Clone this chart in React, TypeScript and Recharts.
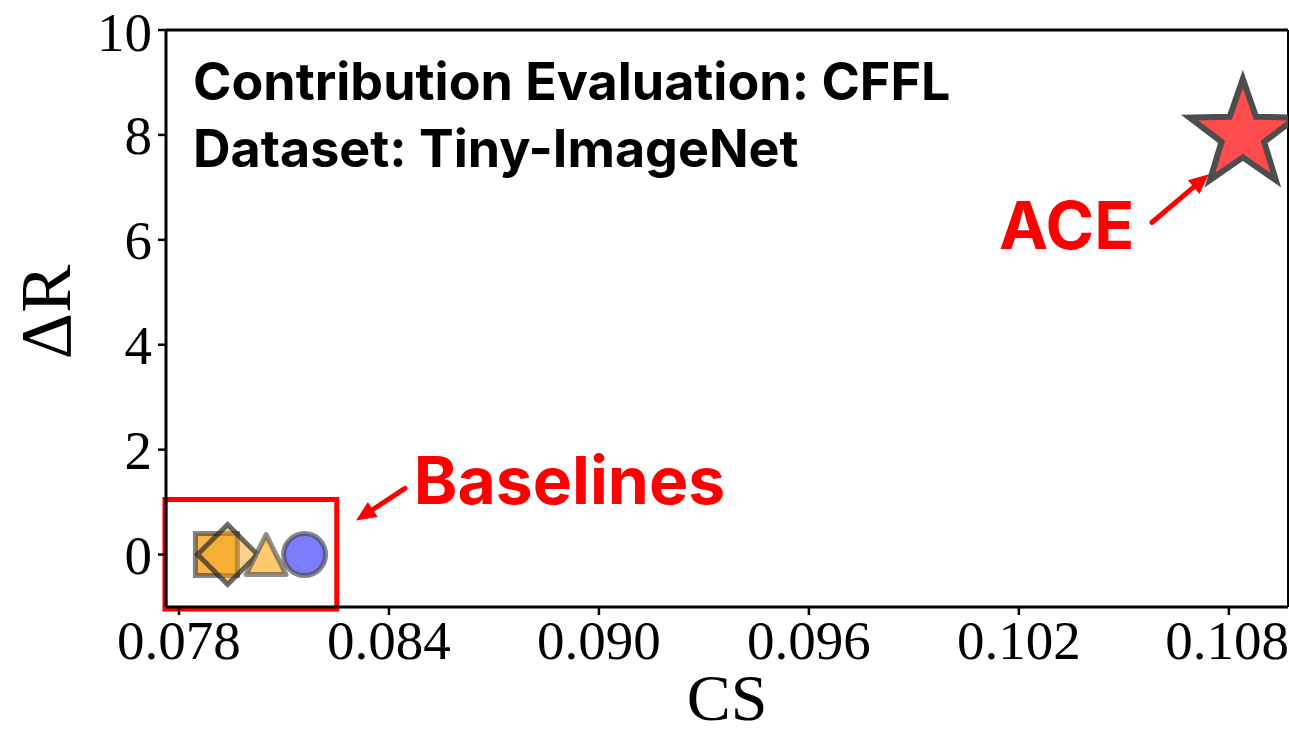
import {
  ReferenceArea,
  ReferenceDot,
  ReferenceLine,
  Scatter,
  ScatterChart,
  XAxis,
  YAxis,
} from "recharts";

// values
const methods = ["Baseline 1", "Baseline 2", "Baseline 3", "Baseline 4", "ACE"];
const csValues = [0.07907, 0.07939, 0.08049, 0.08159, 0.1084];
const deltaRValues = [0, 0, 0, 0, 8.0];
const markerKinds = ["square", "diamond", "triangle", "circle", "star"];

const xTicks = [0.078, 0.084, 0.09, 0.096, 0.102, 0.108];
const yTicks = [0, 2, 4, 6, 8, 10];
const xDomain: [number, number] = [0.07763, 0.10969];
const yDomain: [number, number] = [-1, 10];

// annotations (data coordinates)
const infoLines = [
  { text: "Contribution Evaluation: CFFL", x: 0.0784, y: 8.66 },
  { text: "Dataset: Tiny-ImageNet", x: 0.0784, y: 7.38 },
];
const redLabels = [
  { text: "ACE", x: 0.10143, y: 5.82 },
  { text: "Baselines", x: 0.08471, y: 0.96 },
];
const arrows = [
  { x1: 0.1058, y1: 6.33, x2: 0.10743, y2: 7.25 },
  { x1: 0.08446, y1: 1.26, x2: 0.08306, y2: 0.65 },
];
const baselineBox = { x1: 0.0776, x2: 0.08251, y1: -1.04, y2: 1.05 };

const RED = "#FF0000";
const SERIF = "'Liberation Serif', 'Times New Roman', serif";
const SANS = "Inter, 'Liberation Sans', Arial, sans-serif";

const renderMarker = (kind: string) => (props: any) => {
  const { cx, cy } = props;
  if (cx === undefined || cy === undefined) return null;
  if (kind === "square") {
    return (
      <rect
        x={cx - 21}
        y={cy - 21}
        width={42}
        height={42}
        fill="#F8B64A"
        stroke="rgba(50,50,50,0.6)"
        strokeWidth={5}
      />
    );
  }
  if (kind === "diamond") {
    const h = 30;
    return (
      <polygon
        points={`${cx},${cy - h} ${cx + h},${cy} ${cx},${cy + h} ${cx - h},${cy}`}
        fill="rgba(245,165,30,0.5)"
        stroke="rgba(30,30,30,0.65)"
        strokeWidth={5}
      />
    );
  }
  if (kind === "triangle") {
    const s = 20;
    return (
      <polygon
        points={`${cx},${cy - s} ${cx + s},${cy + s} ${cx - s},${cy + s}`}
        fill="#FFCA6E"
        stroke="rgba(70,70,70,0.6)"
        strokeWidth={5}
        strokeLinejoin="round"
      />
    );
  }
  if (kind === "circle") {
    return (
      <circle
        cx={cx}
        cy={cy}
        r={21}
        fill="#7C7CFF"
        stroke="rgba(70,70,70,0.65)"
        strokeWidth={5}
      />
    );
  }
  // star
  const R = 56;
  const r = R * 0.4;
  const pts: string[] = [];
  for (let i = 0; i < 10; i++) {
    const rad = i % 2 === 0 ? R : r;
    const a = -Math.PI / 2 + (i * Math.PI) / 5;
    pts.push(`${cx + rad * Math.cos(a)},${cy + rad * Math.sin(a)}`);
  }
  return (
    <polygon
      points={pts.join(" ")}
      fill="#FF4C4C"
      stroke="#4D4D4D"
      strokeWidth={6}
    />
  );
};

const arrowShape = (props: any) => {
  const { x1, y1, x2, y2 } = props;
  if (x1 === undefined) return null;
  const ang = Math.atan2(y2 - y1, x2 - x1);
  const headLen = 20;
  const headW = 9;
  const bx = x2 - headLen * Math.cos(ang);
  const by = y2 - headLen * Math.sin(ang);
  const px = -Math.sin(ang) * headW;
  const py = Math.cos(ang) * headW;
  return (
    <g>
      <line
        x1={x1}
        y1={y1}
        x2={bx}
        y2={by}
        stroke={RED}
        strokeWidth={5}
        strokeLinecap="round"
      />
      <polygon
        points={`${x2},${y2} ${bx + px},${by + py} ${bx - px},${by - py}`}
        fill={RED}
      />
    </g>
  );
};

const boxShape = (p: any) => (
  <rect
    x={p.x}
    y={p.y}
    width={p.width}
    height={p.height}
    fill="none"
    stroke={RED}
    strokeWidth={5}
  />
);

export default function App() {
  return (
    <div style={{ position: "fixed", left: 0, top: 0, background: "#fff" }}>
      <ScatterChart
        width={1289}
        height={736}
        margin={{ top: 30, right: 1, bottom: 0, left: 0 }}
      >
        <XAxis
          type="number"
          dataKey="x"
          domain={xDomain}
          ticks={xTicks}
          allowDataOverflow
          tickFormatter={(v: number) => v.toFixed(3)}
          tick={{ fill: "#000", fontSize: 55, fontFamily: SERIF }}
          tickSize={8}
          tickMargin={5}
          tickLine={{ stroke: "#000", strokeWidth: 2.5 }}
          axisLine={{ stroke: "#000", strokeWidth: 3 }}
          height={129}
          label={{
            content: (p: any) => {
              const vb = p.viewBox;
              return (
                <text
                  x={vb.x + vb.width / 2}
                  y={720}
                  textAnchor="middle"
                  fontSize={66}
                  fontFamily={SERIF}
                  fill="#000"
                >
                  CS
                </text>
              );
            },
          }}
        />
        <YAxis
          type="number"
          dataKey="y"
          domain={yDomain}
          ticks={yTicks}
          allowDataOverflow
          tick={{ fill: "#000", fontSize: 55, fontFamily: SERIF }}
          tickSize={8}
          tickMargin={6}
          tickLine={{ stroke: "#000", strokeWidth: 2.5 }}
          axisLine={{ stroke: "#000", strokeWidth: 3 }}
          width={166}
          label={{
            content: () => (
              <text
                x={70}
                y={312}
                transform="rotate(-90 70 312)"
                textAnchor="middle"
                fontSize={72}
                fontFamily={SERIF}
                fill="#000"
              >
                ΔR
              </text>
            ),
          }}
        />
        <ReferenceLine y={yDomain[1]} stroke="#000" strokeWidth={3} />
        <ReferenceLine x={xDomain[1]} stroke="#000" strokeWidth={2} />

        {methods.map((m, i) => (
          <Scatter
            key={m}
            name={m}
            data={[{ x: csValues[i], y: deltaRValues[i] }]}
            shape={renderMarker(markerKinds[i])}
            isAnimationActive={false}
          />
        ))}

        <ReferenceArea
          x1={baselineBox.x1}
          x2={baselineBox.x2}
          y1={baselineBox.y1}
          y2={baselineBox.y2}
          ifOverflow="visible"
          shape={boxShape}
        />

        {arrows.map((a, i) => (
          <ReferenceLine
            key={`arrow-${i}`}
            segment={[
              { x: a.x1, y: a.y1 },
              { x: a.x2, y: a.y2 },
            ]}
            ifOverflow="visible"
            shape={arrowShape}
          />
        ))}

        {infoLines.map((t) => (
          <ReferenceDot
            key={t.text}
            x={t.x}
            y={t.y}
            r={0}
            ifOverflow="visible"
            shape={(p: any) => (
              <text
                x={p.cx}
                y={p.cy}
                fontFamily={SANS}
                fontWeight={700}
                fontSize={52}
                fill="#000"
              >
                {t.text}
              </text>
            )}
          />
        ))}
        {redLabels.map((t) => (
          <ReferenceDot
            key={t.text}
            x={t.x}
            y={t.y}
            r={0}
            ifOverflow="visible"
            shape={(p: any) => (
              <text
                x={p.cx}
                y={p.cy}
                fontFamily={SANS}
                fontWeight={700}
                fontSize={66}
                fill={RED}
              >
                {t.text}
              </text>
            )}
          />
        ))}
      </ScatterChart>
    </div>
  );
}
